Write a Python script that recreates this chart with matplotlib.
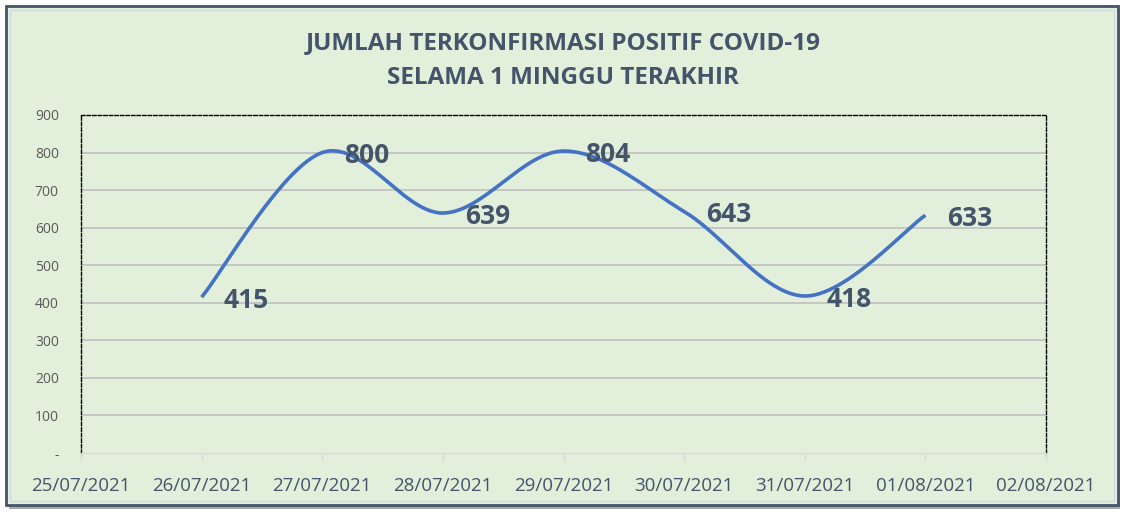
import matplotlib.pyplot as plt
import matplotlib.patches as patches
import numpy as np

# Data
dates = ['25/07/2021', '26/07/2021', '27/07/2021', '28/07/2021', '29/07/2021',
         '30/07/2021', '31/07/2021', '01/08/2021', '02/08/2021']
cases = [None, 415, 800, 639, 804, 643, 418, 633, None]
y_ticks = [0, 100, 200, 300, 400, 500, 600, 700, 800, 900]
y_tick_labels = ['-', '100', '200', '300', '400', '500', '600', '700', '800', '900']

bg = '#E2EFDA'
line_color = '#4472C4'
text_color = '#44546A'

plt.rcParams['font.family'] = ['Open Sans', 'DejaVu Sans']

fig = plt.figure(figsize=(11.26, 5.14), dpi=100)
fig.patch.set_facecolor('white')

# outer chart frame with shadow
fig.add_artist(patches.Rectangle((9 / 1126, 1 - 509 / 514), 1111 / 1126, 500 / 514,
                                 transform=fig.transFigure, facecolor='#A6A6A6',
                                 edgecolor='none', zorder=0))
fig.add_artist(patches.Rectangle((6 / 1126, 1 - 505 / 514), 1112 / 1126, 499 / 514,
                                 transform=fig.transFigure, facecolor=bg,
                                 edgecolor='#44546A', linewidth=2, zorder=0))
fig.add_artist(patches.Rectangle((10 / 1126, 1 - 501 / 514), 1104 / 1126, 491 / 514,
                                 transform=fig.transFigure, facecolor='none',
                                 edgecolor='#D0D8E0', linewidth=1, zorder=0))

ax = fig.add_axes([81 / 1126, 1 - 453 / 514, 965 / 1126, 338 / 514])
ax.set_facecolor(bg)

# smoothed line (Catmull-Rom style Bezier, like Excel's smoothed line)
xs = np.array([i for i, v in enumerate(cases) if v is not None], dtype=float)
ys = np.array([v for v in cases if v is not None], dtype=float)
curve_x, curve_y = [], []
t = np.linspace(0, 1, 60)
for i in range(len(xs) - 1):
    p0 = np.array([xs[max(i - 1, 0)], ys[max(i - 1, 0)]])
    p1 = np.array([xs[i], ys[i]])
    p2 = np.array([xs[i + 1], ys[i + 1]])
    p3 = np.array([xs[min(i + 2, len(xs) - 1)], ys[min(i + 2, len(xs) - 1)]])
    c1 = p1 + (p2 - p0) / 6
    c2 = p2 - (p3 - p1) / 6
    pts = ((1 - t) ** 3)[:, None] * p1 + (3 * (1 - t) ** 2 * t)[:, None] * c1 \
        + (3 * (1 - t) * t ** 2)[:, None] * c2 + (t ** 3)[:, None] * p2
    curve_x.extend(pts[:, 0])
    curve_y.extend(pts[:, 1])
ax.plot(curve_x, curve_y, color=line_color, linewidth=2.6, solid_capstyle='butt', zorder=3)

# data labels
for x, y in zip(xs, ys):
    ax.annotate(f"{int(y)}", (x, y), textcoords='offset pixels', xytext=(22, -3),
                ha='left', va='center', fontsize=19, fontweight='bold',
                color=text_color, zorder=4)

ax.set_xlim(0, len(dates) - 1)
ax.set_ylim(0, 900)
ax.set_xticks(range(len(dates)))
ax.set_xticklabels(dates)
ax.set_yticks(y_ticks)
ax.set_yticklabels(y_tick_labels)

for v in y_ticks[1:-1]:
    ax.axhline(v, color='#BFBFBF', linewidth=1.2, zorder=1)

for side in ['top', 'left', 'right']:
    ax.spines[side].set_linestyle((0, (2.5, 1.5)))
    ax.spines[side].set_color('black')
    ax.spines[side].set_linewidth(1)
ax.spines['bottom'].set_color('#D9D9D9')
ax.spines['bottom'].set_linewidth(1)

ax.tick_params(axis='x', colors='#D9D9D9', length=6, width=1, labelcolor=text_color,
               labelsize=13.5, pad=11)
ax.tick_params(axis='y', length=0, labelcolor='#595959', labelsize=10, pad=16)

fig.text(0.5, 1 - 43 / 514, 'JUMLAH TERKONFIRMASI POSITIF COVID-19', ha='center',
         va='center', fontsize=17.5, fontweight='bold', color=text_color)
fig.text(0.5, 1 - 78 / 514, 'SELAMA 1 MINGGU TERAKHIR', ha='center',
         va='center', fontsize=17.5, fontweight='bold', color=text_color)

plt.savefig('out.png', dpi=100, facecolor=fig.get_facecolor())
